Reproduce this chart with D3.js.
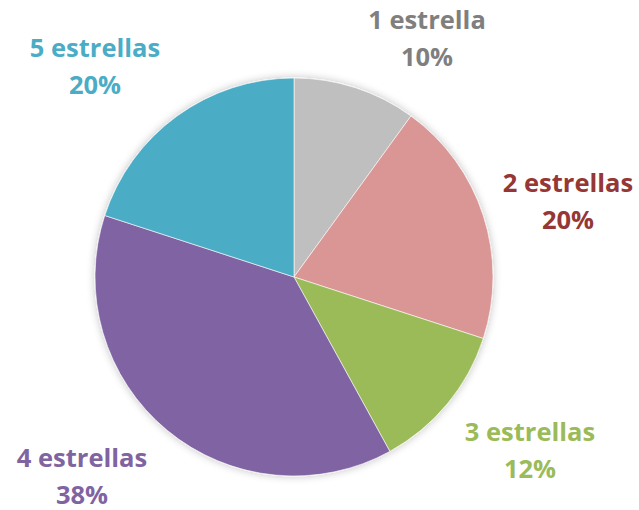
<!DOCTYPE html>
<html><head><meta charset="utf-8">
<script src="https://cdn.jsdelivr.net/npm/d3@7"></script>
<style>html,body{margin:0;padding:0;background:#fff;}</style>
</head><body>
<svg id="c" width="639" height="510"></svg>
<script>
const categories = ["1 estrella","2 estrellas","3 estrellas","4 estrellas","5 estrellas"];
const values = [10, 20, 12, 38, 20];
const sliceColors = ["#BFBFBF","#D99694","#9BBB59","#8064A2","#4BACC6"];
const labelColors = ["#7F7F7F","#953735","#9BBB59","#8064A2","#4BACC6"];
const labelPos = [[427,29],[568,192],[530,441],[82,467],[95,57]];

const svg = d3.select("#c");
const cx = 294, cy = 277, r = 199;
const defs = svg.append("defs");
const f = defs.append("filter").attr("id","sh").attr("x","-20%").attr("y","-20%").attr("width","140%").attr("height","140%");
f.append("feGaussianBlur").attr("in","SourceAlpha").attr("stdDeviation",4);
f.append("feOffset").attr("dx",0).attr("dy",0).attr("result","b");
f.append("feComponentTransfer").append("feFuncA").attr("type","linear").attr("slope",0.25);
const m = f.append("feMerge"); m.append("feMergeNode"); m.append("feMergeNode").attr("in","SourceGraphic");

const pie = d3.pie().sort(null).value(d=>d)(values);
const arc = d3.arc().innerRadius(0).outerRadius(r);
const g = svg.append("g").attr("transform",`translate(${cx},${cy})`).attr("filter","url(#sh)");
g.selectAll("path").data(pie).join("path")
  .attr("d",arc).attr("fill",(d,i)=>sliceColors[i])
  .attr("stroke","#fff").attr("stroke-width",0.6);

const total = d3.sum(values);
const lab = svg.append("g");
categories.forEach((c,i)=>{
  const t = lab.append("text").attr("text-anchor","middle")
    .attr("font-family","'Open Sans', 'Noto Sans', sans-serif").attr("font-weight","bold")
    .attr("font-size",25.5).attr("fill",labelColors[i]);
  t.append("tspan").attr("x",labelPos[i][0]).attr("y",labelPos[i][1]).text(c);
  t.append("tspan").attr("x",labelPos[i][0]).attr("y",labelPos[i][1]+37).text(Math.round(values[i]/total*100)+"%");
});
</script>
</body></html>
